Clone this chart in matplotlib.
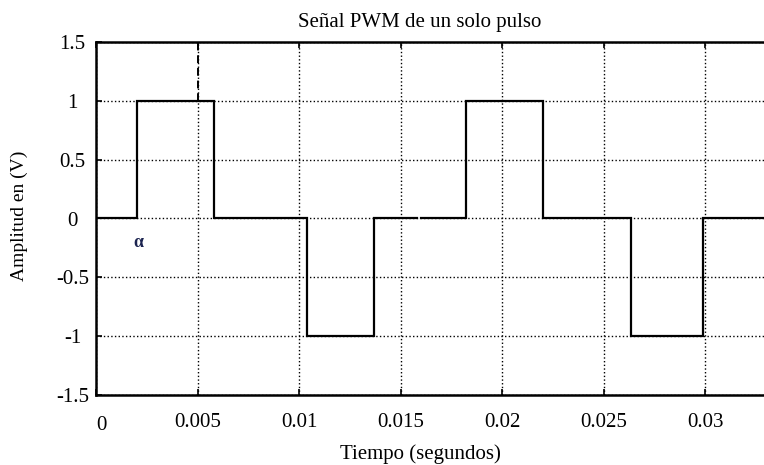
import numpy as np
import matplotlib
matplotlib.use('Agg')
import matplotlib.pyplot as plt
from matplotlib.transforms import ScaledTranslation

plt.rcParams['font.family'] = ['Liberation Serif', 'DejaVu Serif']

# Switching instants (s) and output level between them
t_edges = [0, 0.00202, 0.0058, 0.01037, 0.0137, 0.0182, 0.0220, 0.02636, 0.0299, 0.0329]
levels = [0, 1, 0, -1, 0, 1, 0, -1, 0]
gap = (0.0158, 0.0160)  # small break in the zero segment

x_ticks = [0, 0.005, 0.01, 0.015, 0.02, 0.025, 0.03]
x_labels = ['0', '0.005', '0.01', '0.015', '0.02', '0.025', '0.03']
y_ticks = [-1.5, -1, -0.5, 0, 0.5, 1, 1.5]
y_labels = ['-1.5', '-1', '-0.5', '0', '0.5', '1', '1.5']

alpha_pos = (0.00211, -0.2)   # firing angle marker
t_ref = 0.005

# build the stepped waveform
t, v = [], []
for i, lv in enumerate(levels):
    t += [t_edges[i], t_edges[i + 1]]
    v += [lv, lv]
t = np.array(t)
v = np.array(v, dtype=float)
# insert the break
k = np.searchsorted(t, gap[0])
t = np.insert(t, k, [gap[0], gap[0], gap[1]])
v = np.insert(v, k, [0, np.nan, 0])

fig = plt.figure(figsize=(7.64, 4.65), dpi=100)
W, H = 764, 465
x0, x1, y0, y1 = 96, 764, 42, 395
ax = fig.add_axes([x0 / W, 1 - y1 / H, (x1 - x0) / W, (y1 - y0) / H])

ax.plot(t, v, color='black', lw=1.6, solid_joinstyle='miter')
ax.plot([t_ref, t_ref], [1, 1.5], color='black', lw=1.4, ls=(0, (4, 2.5)))
ax.text(alpha_pos[0], alpha_pos[1], 'α', color='#1c2450', fontsize=13,
        fontweight='bold', ha='center', va='center')

ax.set_xlim(0, t_edges[-1])
ax.set_ylim(-1.5, 1.5)
ax.set_xticks(x_ticks)
ax.set_xticklabels(x_labels)
ax.set_yticks(y_ticks)
ax.set_yticklabels(y_labels)
ax.grid(True, color='black', ls=':', lw=1.0)
ax.set_axisbelow(True)

for s in ['left', 'top', 'bottom']:
    ax.spines[s].set_linewidth(1.8)
ax.spines['right'].set_visible(False)

ax.tick_params(axis='both', direction='in', length=4, width=1.2, labelsize=15,
               top=True, right=False)
ax.tick_params(axis='x', pad=13)
ax.tick_params(axis='y', pad=17)
for lab in ax.get_yticklabels():
    lab.set_horizontalalignment('center')
# the origin label sits a little lower and to the right
first = ax.get_xticklabels()[0]
first.set_transform(first.get_transform() + ScaledTranslation(0.05, -0.03, fig.dpi_scale_trans))

cx = (420 - x0) / (x1 - x0)
ax.set_title('Señal PWM de un solo pulso', fontsize=15, x=cx, pad=11)
ax.set_xlabel('Tiempo (segundos)', fontsize=15)
ax.xaxis.set_label_coords(cx, -0.14)
ax.set_ylabel('Amplitud en (V)', fontsize=14, va='center')
ax.yaxis.set_label_coords(-(x0 - 19) / (x1 - x0), 0.507)

fig.savefig('out.png', dpi=100)
